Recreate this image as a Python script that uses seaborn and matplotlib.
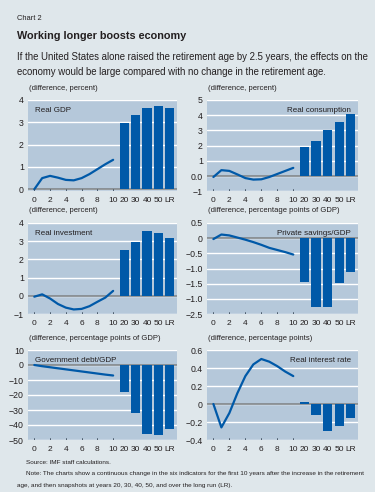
import matplotlib
matplotlib.use("Agg")
import matplotlib.pyplot as plt
import seaborn as sns
import numpy as np
import pandas as pd

years = list(range(11))
snap_labels = ["20", "30", "40", "50", "LR"]
tick_labels = ["0", "2", "4", "6", "8", "10"] + snap_labels

gdp_line = [0, 0.5, 0.6, 0.52, 0.42, 0.4, 0.5, 0.68, 0.9, 1.12, 1.32]
gdp_bars = [2.95, 3.33, 3.66, 3.73, 3.63]

cons_line = [-0.05, 0.4, 0.35, 0.12, -0.12, -0.22, -0.2, -0.05, 0.15, 0.35, 0.55]
cons_bars = [1.9, 2.3, 3.0, 3.53, 4.05]

inv_line = [-0.05, 0.08, -0.15, -0.45, -0.65, -0.75, -0.72, -0.57, -0.33, -0.1, 0.27]
inv_bars = [2.5, 2.95, 3.55, 3.45, 3.2]

sav_line = [-0.03, 0.12, 0.09, 0.02, -0.05, -0.13, -0.22, -0.32, -0.39, -0.46, -0.54]
sav_bars = [-1.43, -2.28, -2.28, -1.48, -1.13]

debt_line = [0, -0.8, -1.5, -2.2, -2.9, -3.6, -4.3, -5.0, -5.7, -6.4, -7.0]
debt_bars = [-18.2, -32.0, -46.2, -46.5, -42.9]

rate_line = [0, -0.26, -0.1, 0.12, 0.31, 0.44, 0.5, 0.47, 0.42, 0.36, 0.31]
rate_bars = [0.02, -0.125, -0.30, -0.24, -0.15]

panels = [
    dict(name="Real GDP", unit="(difference, percent)", line=gdp_line, bars=gdp_bars,
         yticks=[0, 1, 2, 3, 4], ylabels=["0", "1", "2", "3", "4"], ylim=(-0.1, 4), side="left"),
    dict(name="Real consumption", unit="(difference, percent)", line=cons_line, bars=cons_bars,
         yticks=[-1, 0, 1, 2, 3, 4, 5], ylabels=["\u22121", "0.0", "1", "2", "3", "4", "5"], ylim=(-1, 5), side="right"),
    dict(name="Real investment", unit="(difference, percent)", line=inv_line, bars=inv_bars,
         yticks=[-1, 0, 1, 2, 3, 4], ylabels=["\u22121", "0", "1", "2", "3", "4"], ylim=(-1, 4), side="left"),
    dict(name="Private savings/GDP", unit="(difference, percentage points of GDP)", line=sav_line, bars=sav_bars,
         yticks=[-2.5, -2.0, -1.5, -1.0, -0.5, 0, 0.5],
         ylabels=["\u22122.5", "\u22121.0", "\u22121.5", "\u22121.0", "\u22120.5", "0", "0.5"], ylim=(-2.5, 0.5), side="right"),
    dict(name="Government debt/GDP", unit="(difference, percentage points of GDP)", line=debt_line, bars=debt_bars,
         yticks=[-50, -40, -30, -20, -10, 0, 10],
         ylabels=["\u221250", "\u221240", "\u221230", "\u221220", "\u221210", "0", "10"], ylim=(-50, 10), side="left"),
    dict(name="Real interest rate", unit="(difference, percentage points)", line=rate_line, bars=rate_bars,
         yticks=[-0.4, -0.2, 0, 0.2, 0.4, 0.6],
         ylabels=["\u22120.4", "\u22120.2", "0", "0.2", "0.4", "0.6"], ylim=(-0.4, 0.6), side="right"),
]

sns.set_theme(style="white")
FONT = ["Liberation Sans Narrow", "Liberation Sans", "DejaVu Sans"]
plt.rcParams["font.family"] = FONT

BG = "#dfe7eb"
AX_BG = "#b5c8da"
BLUE = "#0059a8"
TXT = "#231f20"

fig = plt.figure(figsize=(3.75, 4.92), dpi=100, facecolor=BG)

W, H = 375.0, 492.0
cols = {"left": (28, 177), "right": (207, 358)}
rows = [(100, 191.5), (223, 314), (350, 440)]

snap_step = 1.45
snap_pos = [10 + snap_step * (i + 1) - 0.05 for i in range(len(snap_labels))]
xtick_pos = [0, 2, 4, 6, 8, 10] + snap_pos

for k, p in enumerate(panels):
    r = rows[k // 2]
    c = cols[p["side"]]
    ax = fig.add_axes([c[0] / W, 1 - r[1] / H, (c[1] - c[0]) / W, (r[1] - r[0]) / H])
    ax.set_facecolor(AX_BG)
    for s in ax.spines.values():
        s.set_visible(False)
    for yv in p["yticks"]:
        ax.axhline(yv, color="white", lw=1.0, zorder=0.5)
    ax.axhline(0, color="#7f8589", lw=1.2, zorder=1)

    dfb = pd.DataFrame({"pos": snap_pos, "val": p["bars"]})
    sns.barplot(data=dfb, x="pos", y="val", native_scale=True, width=0.8,
                color=BLUE, saturation=1, ax=ax, zorder=2, edgecolor="none")
    dfl = pd.DataFrame({"year": years, "val": p["line"]})
    sns.lineplot(data=dfl, x="year", y="val", color=BLUE, lw=1.6, ax=ax, zorder=3)

    ax.set_xlim(-0.8, 18.1)
    ax.set_ylim(*p["ylim"])
    ax.set_yticks(p["yticks"])
    ax.set_yticklabels(p["ylabels"])
    ax.set_xticks(xtick_pos)
    ax.set_xticklabels(tick_labels)
    ax.set_xlabel("")
    ax.set_ylabel("")
    ax.tick_params(axis="y", length=0, pad=3, labelsize=6.3, labelcolor=TXT)
    ax.tick_params(axis="x", length=0, pad=4, labelsize=6.0, labelcolor=TXT)
    for xv in [0, 2, 4, 6, 8, 10]:
        ax.plot([xv, xv], [0, 0.025], transform=ax.get_xaxis_transform(),
                color="#3a4a5a", lw=0.6, zorder=4)

    if p["side"] == "left":
        ax.text(0.045, 0.92, p["name"], transform=ax.transAxes, ha="left", va="top",
                fontsize=5.8, color=TXT, zorder=5)
    else:
        ax.text(0.955, 0.92, p["name"], transform=ax.transAxes, ha="right", va="top",
                fontsize=5.8, color=TXT, zorder=5)
    fig.text((c[0] + 1) / W, 1 - (r[0] - 12) / H, p["unit"], ha="left", va="center",
             fontsize=5.5, color=TXT)

fig.text(17 / W, 1 - 18 / H, "Chart 2", ha="left", va="center", fontsize=5.4, color=TXT)
fig.text(17 / W, 1 - 36 / H, "Working longer boosts economy", ha="left", va="center",
         fontsize=7.8, fontweight="bold", color=TXT)
fig.text(17 / W, 1 - 57 / H,
         "If the United States alone raised the retirement age by 2.5 years, the effects on the",
         ha="left", va="center", fontsize=6.9, color=TXT)
fig.text(17 / W, 1 - 72 / H,
         "economy would be large compared with no change in the retirement age.",
         ha="left", va="center", fontsize=6.9, color=TXT)

fig.text(26 / W, 1 - 462 / H, "Source: IMF staff calculations.", ha="left", va="center",
         fontsize=4.6, color=TXT)
fig.text(26 / W, 1 - 474 / H,
         "Note: The charts show a continuous change in the six indicators for the first 10 years after the increase in the retirement",
         ha="left", va="center", fontsize=4.6, color=TXT)
fig.text(17 / W, 1 - 485 / H,
         "age, and then snapshots at years 20, 30, 40, 50, and over the long run (LR).",
         ha="left", va="center", fontsize=4.6, color=TXT)

fig.savefig("out.png", dpi=100, facecolor=BG)
